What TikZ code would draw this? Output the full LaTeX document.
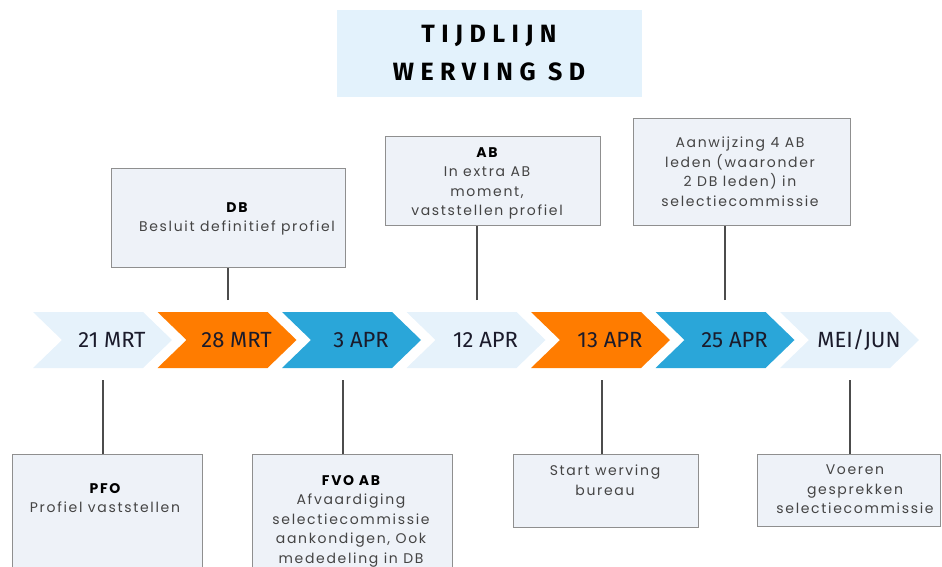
\documentclass[tikz,border=0pt]{standalone}
\usepackage{fontspec}
\setmainfont{Poppins}
\newfontfamily\titelfont[LetterSpace=26]{Fira Sans}
\newfontfamily\datumfont{Fira Sans}
\newfontfamily\kaartfont[LetterSpace=12]{Poppins}
\usetikzlibrary{positioning}
\definecolor{lichtblauw}{HTML}{E6F2FB}
\definecolor{titelblauw}{HTML}{E3F2FC}
\definecolor{oranje}{HTML}{FF7C00}
\definecolor{blauw}{HTML}{2AA6D9}
\definecolor{kader}{HTML}{EEF2F8}
\definecolor{rand}{HTML}{8F8F8F}
\definecolor{tekst}{HTML}{444444}
\definecolor{donker}{HTML}{1B1B2B}

\tikzset{
  titelkader/.style={fill=titelblauw, minimum width=305, minimum height=87, inner sep=0pt,
    align=center, font=\titelfont\bfseries\fontsize{25}{38}\selectfont, text=black},
  datum/.style={font=\datumfont\fontsize{22}{24}\selectfont, text=donker, inner sep=0pt, anchor=base},
  kaart/.style={draw=rand, line width=1.2pt, fill=kader, inner sep=0pt, anchor=north west},
  kaarttekst/.style={font=\kaartfont\fontsize{14}{19.5}\selectfont, text=tekst, align=center,
    inner sep=0pt, anchor=north},
  lijn/.style={draw=black!70, line width=1.2pt},
}
\newcommand{\kop}[1]{{\color{black}\bfseries #1}}
\newcommand{\pijl}[2]{\fill[#2] (#1,312) -- ++(110,0) -- ++(29,28) -- ++(-29,28) -- ++(-110,0) -- ++(29,-28) -- cycle;}

\begin{document}
\begin{tikzpicture}[x=1pt, y=-1pt]
  \useasboundingbox (0,0) rectangle (942,567);
  \clip (0,0) rectangle (942,567);

  % Titel
  \node[titelkader] (titel) at (489,53.5) {TIJDLIJN\\WERVING SD};

  % Pijlen met data
  \foreach \i/\kleur/\datum in {0/lichtblauw/21 MRT, 1/oranje/28 MRT, 2/blauw/3 APR,
      3/lichtblauw/12 APR, 4/oranje/13 APR, 5/blauw/25 APR, 6/lichtblauw/{MEI/JUN}}{
    \pijl{33+124.5*\i}{\kleur}
    \node[datum] (d\i) at ({112+124.5*\i},347.5) {\datum};
  }

  % Kaarten boven
  \node[kaart, minimum width=234, minimum height=99] (db) at (111,168) {};
  \node[kaarttekst] (dbt) at (237,202) {\kop{DB}\\Besluit definitief profiel};
  \node[kaart, minimum width=215, minimum height=89] (ab) at (385,136) {};
  \node[kaarttekst] (abt) at (487,147) {\kop{AB}\\In extra AB\\moment,\\vaststellen profiel};
  \node[kaart, minimum width=217, minimum height=107] (aanw) at (633,118) {};
  \node[kaarttekst] (aanwt) at (740,137) {Aanwijzing 4 AB\\leden (waaronder\\2 DB leden) in\\selectiecommissie};

  % Kaarten onder
  \node[kaart, minimum width=190, minimum height=150] (pfo) at (12,454) {};
  \node[kaarttekst] (pfot) at (105,483) {\kop{PFO}\\Profiel vaststellen};
  \node[kaart, minimum width=200, minimum height=150] (fvo) at (252,454) {};
  \node[kaarttekst] (fvot) at (351,475) {\kop{FVO AB}\\Afvaardiging\\selectiecommissie\\aankondigen, Ook\\mededeling in DB};
  \node[kaart, minimum width=185, minimum height=73] (start) at (513,454) {};
  \node[kaarttekst] (startt) at (605,465) {Start werving\\bureau};
  \node[kaart, minimum width=183, minimum height=72] (voeren) at (757,454) {};
  \node[kaarttekst] (voerent) at (855,465) {Voeren\\gesprekken\\selectiecommissie};

  % Verbindingslijnen
  \coordinate (k1) at (228,300);
  \coordinate (k3) at (477,300);
  \coordinate (k5) at (725,300);
  \coordinate (k0) at (103,380);
  \coordinate (k2) at (343,380);
  \coordinate (k4) at (602,380);
  \coordinate (k6) at (850,380);
  \draw[lijn] (k1) -- (k1 |- db.south);
  \draw[lijn] (k3) -- (k3 |- ab.south);
  \draw[lijn] (k5) -- (k5 |- aanw.south);
  \draw[lijn] (k0) -- (k0 |- pfo.north);
  \draw[lijn] (k2) -- (k2 |- fvo.north);
  \draw[lijn] (k4) -- (k4 |- start.north);
  \draw[lijn] (k6) -- (k6 |- voeren.north);
\end{tikzpicture}
\end{document}
